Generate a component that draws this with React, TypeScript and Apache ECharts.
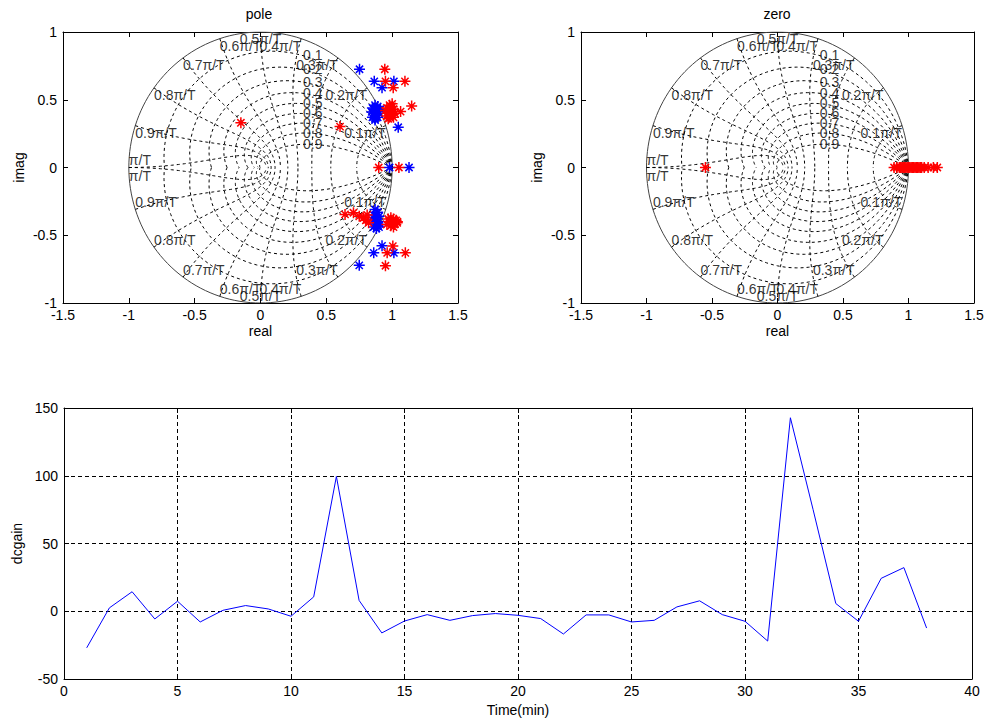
import React, { useEffect, useRef } from "react";
import * as echarts from "echarts";

// ---- data ----
const timeMin = [1, 2, 3, 4, 5, 6, 7, 8, 9, 10, 11, 12, 13, 14, 15, 16, 17, 18, 19, 20, 21, 22, 23, 24, 25, 26, 27, 28, 29, 30, 31, 32, 33, 34, 35, 36, 37, 38];
const dcgain = [-27, 2.5, 14.4, -5.7, 7.4, -7.9, 0.7, 4.2, 1.7, -3.7, 10.6, 99.5, 8, -16, -7.2, -2.5, -6.7, -3.2, -1.7, -3, -5.4, -16.8, -2.7, -2.7, -7.9, -6.7, 3.2, 7.7, -2.5, -7.4, -22, 142.8, 75, 5.7, -7.4, 24.3, 32.2, -12.4];

const poleBlue: number[][] = [
  [0.752, 0.725], [0.864, 0.636], [1.013, 0.636], [0.923, 0.589], [1.046, 0.297],
  [0.98, 0], [1.128, 0],
  [0.85, 0.44], [0.87, 0.46], [0.89, 0.45], [0.845, 0.41], [0.86, 0.40], [0.88, 0.42], [0.9, 0.40],
  [0.85, 0.37], [0.87, 0.36], [0.89, 0.37], [0.86, 0.43], [0.88, 0.39], [0.91, 0.43], [0.87, 0.35],
  [0.923, -0.578], [0.86, -0.63], [1.013, -0.63], [0.75, -0.722],
  [0.87, -0.31], [0.89, -0.33], [0.86, -0.35], [0.88, -0.37], [0.9, -0.36], [0.855, -0.39], [0.87, -0.41],
  [0.89, -0.40], [0.91, -0.42], [0.86, -0.44], [0.88, -0.45], [0.9, -0.44], [0.87, -0.38], [0.89, -0.43],
];

const poleRed: number[][] = [
  [0.944, 0.725], [0.949, 0.636], [1.097, 0.636], [1.008, 0.589], [1.148, 0.453], [1.064, 0.413],
  [0.604, 0.302], [-0.149, 0.33], [0.898, 0], [1.051, 0],
  [0.96, 0.44], [0.98, 0.46], [1.0, 0.45], [0.97, 0.41], [0.99, 0.42], [1.01, 0.43], [0.96, 0.38],
  [0.98, 0.37], [1.0, 0.39], [1.02, 0.40], [0.97, 0.36], [0.99, 0.40], [1.01, 0.37], [0.95, 0.42], [1.0, 0.47],
  [1.005, -0.58], [0.962, -0.63], [1.1, -0.63], [0.949, -0.725],
  [0.642, -0.346], [0.706, -0.334], [0.75, -0.36], [0.783, -0.371], [0.8, -0.39], [0.821, -0.408], [0.81, -0.35],
  [0.97, -0.38], [0.99, -0.37], [1.01, -0.38], [1.03, -0.39], [0.98, -0.40], [1.0, -0.41], [1.02, -0.42],
  [1.04, -0.40], [0.99, -0.43], [1.01, -0.44], [0.96, -0.42], [1.038, -0.408],
];

const zeroRed: number[][] = [
  [-0.55, 0],
  [0.89, 0], [0.91, 0], [0.93, 0], [0.94, 0], [0.95, 0], [0.96, 0], [0.97, 0], [0.98, 0], [0.99, 0],
  [1.0, 0], [1.01, 0], [1.02, 0], [1.03, 0], [1.04, 0], [1.05, 0], [1.06, 0], [1.07, 0], [1.08, 0],
  [1.09, 0], [1.1, 0], [1.12, 0], [1.15, 0], [1.19, 0], [1.22, 0],
];

// zgrid definitions (damping ratios and natural frequencies)
const zetaValues = [0.1, 0.2, 0.3, 0.4, 0.5, 0.6, 0.7, 0.8, 0.9];
const wnFractions = [0.1, 0.2, 0.3, 0.4, 0.5, 0.6, 0.7, 0.8, 0.9, 1.0];
const wnLabels = ["0.1π/T", "0.2π/T", "0.3π/T", "0.4π/T", "0.5π/T", "0.6π/T", "0.7π/T", "0.8π/T", "0.9π/T", "π/T"];

const FONT = '"Liberation Sans", Arial, Helvetica, sans-serif';
const STAR = "path://M5,0L5,10M0,5L10,5M1.7,1.7L8.3,8.3M1.7,8.3L8.3,1.7";

function zgridSeries(ax: number) {
  const N = 80;
  const series: any[] = [];
  const dashed = { type: [3, 3], width: 1, color: "#000" };
  const base = {
    type: "line", xAxisIndex: ax, yAxisIndex: ax, showSymbol: false, symbol: "none",
    silent: true, animation: false, z: 1,
  };
  // unit circle
  const circ: number[][] = [];
  for (let i = 0; i <= 160; i++) {
    const t = (2 * Math.PI * i) / 160;
    circ.push([Math.cos(t), Math.sin(t)]);
  }
  series.push({ ...base, data: circ, lineStyle: { width: 1, color: "#444" } });
  // damping ratio curves
  zetaValues.forEach((zeta) => {
    const m = Math.tan(Math.asin(zeta));
    const up: number[][] = [];
    const dn: number[][] = [];
    for (let i = 0; i <= N; i++) {
      const p = (Math.PI * i) / N;
      const r = Math.exp(-m * p);
      up.push([r * Math.cos(p), r * Math.sin(p)]);
      dn.push([r * Math.cos(p), -r * Math.sin(p)]);
    }
    series.push({ ...base, data: up, lineStyle: dashed });
    series.push({ ...base, data: dn, lineStyle: dashed });
  });
  // natural frequency curves
  wnFractions.forEach((f) => {
    const w = f * Math.PI;
    const up: number[][] = [];
    const dn: number[][] = [];
    for (let j = 0; j <= N; j++) {
      const z = j / N;
      const r = Math.exp(-w * z);
      const th = w * Math.sqrt(1 - z * z);
      up.push([r * Math.cos(th), r * Math.sin(th)]);
      dn.push([r * Math.cos(th), -r * Math.sin(th)]);
    }
    series.push({ ...base, data: up, lineStyle: dashed });
    series.push({ ...base, data: dn, lineStyle: dashed });
  });
  // labels
  const labels: any[] = [];
  zetaValues.forEach((zeta) => {
    const m = Math.tan(Math.asin(zeta));
    let lo = 0, hi = Math.PI / 2;
    for (let k = 0; k < 50; k++) {
      const mid = (lo + hi) / 2;
      if (Math.exp(-m * mid) * Math.cos(mid) > 0.3) lo = mid; else hi = mid;
    }
    const y = Math.exp(-m * lo) * Math.sin(lo);
    labels.push({
      value: [0.3, y],
      label: { show: true, formatter: String(zeta), position: "inside", align: "left", verticalAlign: "middle", offset: [3, 0] },
    });
  });
  wnFractions.forEach((f, i) => {
    const t = f * Math.PI;
    const x = Math.cos(t);
    const y = Math.sin(t);
    let align = "center";
    if (i < 4) align = "right";
    if (i > 4) align = "left";
    const last = i === 9;
    labels.push({
      value: [x, y],
      label: { show: true, formatter: wnLabels[i], position: "inside", align, verticalAlign: last ? "bottom" : "top", offset: [0, last ? -1 : 0] },
    });
    labels.push({
      value: [x, -y],
      label: { show: true, formatter: wnLabels[i], position: "inside", align, verticalAlign: last ? "top" : "bottom", offset: [0, last ? 1 : 0] },
    });
  });
  series.push({
    type: "scatter", xAxisIndex: ax, yAxisIndex: ax, symbol: "circle", symbolSize: 1,
    itemStyle: { color: "rgba(0,0,0,0)" }, silent: true, z: 3,
    label: { color: "#000", fontSize: 14, fontFamily: FONT },
    data: labels,
  });
  return series;
}

function xAxes(gridIndex: number, min: number, max: number, interval: number, name: string, nameGap: number, grid: boolean) {
  const common = {
    type: "value", gridIndex, min, max, interval,
    axisLine: { show: true, onZero: false, lineStyle: { color: "#000", width: 1 } },
    axisTick: { show: true, inside: true, length: 5, lineStyle: { color: "#000" } },
  };
  return [
    {
      ...common, position: "bottom",
      axisLabel: { show: true, color: "#000", fontSize: 14, fontFamily: FONT, margin: 5 },
      splitLine: { show: grid, lineStyle: { color: "#000", type: [4, 3], width: 1 } },
      name, nameLocation: "middle", nameGap,
      nameTextStyle: { color: "#000", fontSize: 14, fontFamily: FONT },
    },
    { ...common, position: "top", axisLabel: { show: false }, splitLine: { show: false } },
  ];
}

function yAxes(gridIndex: number, min: number, max: number, interval: number, name: string, nameGap: number, grid: boolean) {
  const common = {
    type: "value", gridIndex, min, max, interval,
    axisLine: { show: true, onZero: false, lineStyle: { color: "#000", width: 1 } },
    axisTick: { show: true, inside: true, length: 5, lineStyle: { color: "#000" } },
  };
  return [
    {
      ...common, position: "left",
      axisLabel: { show: true, color: "#000", fontSize: 14, fontFamily: FONT, margin: 6 },
      splitLine: { show: grid, lineStyle: { color: "#000", type: [4, 3], width: 1 } },
      name, nameLocation: "middle", nameGap,
      nameTextStyle: { color: "#000", fontSize: 14, fontFamily: FONT },
    },
    { ...common, position: "right", axisLabel: { show: false }, splitLine: { show: false } },
  ];
}

export default function App() {
  const ref = useRef<HTMLDivElement>(null);
  useEffect(() => {
    if (!ref.current) return;
    const chart = echarts.init(ref.current, null, { renderer: "svg" });
    const xs = [
      ...xAxes(0, -1.5, 1.5, 0.5, "real", 21, false),
      ...xAxes(1, -1.5, 1.5, 0.5, "real", 21, false),
      ...xAxes(2, 0, 40, 5, "Time(min)", 24, true),
    ];
    const ys = [
      ...yAxes(0, -1, 1, 0.5, "imag", 37, false),
      ...yAxes(1, -1, 1, 0.5, "imag", 37, false),
      ...yAxes(2, -50, 150, 50, "dcgain", 37, true),
    ];
    const star = (data: number[][], color: string, ax: number) => ({
      type: "scatter", xAxisIndex: ax, yAxisIndex: ax, symbol: STAR, symbolSize: 11,
      itemStyle: { color, borderColor: color, borderWidth: 1.5, opacity: 1 },
      silent: true, z: 5, data,
    });
    const option: any = {
      animation: false,
      backgroundColor: "#fff",
      grid: [
        { left: 63, top: 32, width: 395, height: 271 },
        { left: 581, top: 32, width: 393, height: 271 },
        { left: 64, top: 408, width: 908, height: 271 },
      ],
      xAxis: xs,
      yAxis: ys,
      graphic: [
        { type: "text", x: 259, y: 14, style: { text: "pole", align: "center", verticalAlign: "middle", fill: "#000", font: `14px ${FONT}` } },
        { type: "text", x: 777, y: 14, style: { text: "zero", align: "center", verticalAlign: "middle", fill: "#000", font: `14px ${FONT}` } },
      ],
      series: [
        ...zgridSeries(0),
        ...zgridSeries(2),
        star(poleBlue, "#0000ff", 0),
        star(poleRed, "#ff0000", 0),
        star(zeroRed, "#ff0000", 2),
        {
          type: "line", xAxisIndex: 4, yAxisIndex: 4, showSymbol: false, symbol: "none",
          lineStyle: { color: "#0000ff", width: 1 }, silent: true, z: 4,
          data: timeMin.map((t, i) => [t, dcgain[i]]),
        },
      ],
    };
    chart.setOption(option);
    return () => chart.dispose();
  }, []);
  return <div ref={ref} style={{ position: "absolute", left: 0, top: 0, width: 989, height: 726, background: "#fff" }} />;
}
